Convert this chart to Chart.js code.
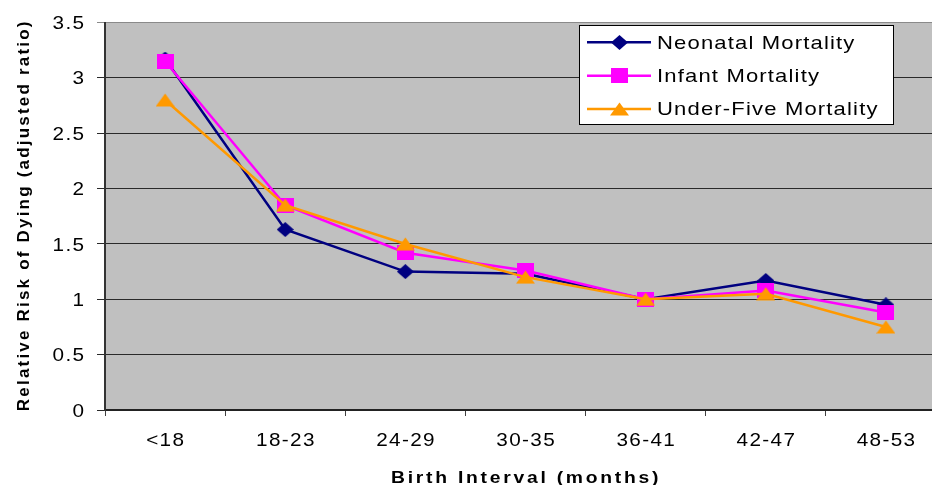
<!DOCTYPE html>
<html>
<head>
<meta charset="utf-8">
<script src="https://cdn.jsdelivr.net/npm/chart.js@4.4.1/dist/chart.umd.min.js"></script>
<style>
  html, body { margin: 0; padding: 0; background: #fff; overflow: hidden; }
  #wrap { position: relative; width: 960px; height: 485px; }
</style>
</head>
<body>
<div id="wrap"><canvas id="c" width="960" height="485"></canvas></div>
<script>
// Birth interval groups and adjusted relative risks
const categories = ['<18', '18-23', '24-29', '30-35', '36-41', '42-47', '48-53'];
const neonatal  = [3.17, 1.63, 1.25, 1.23, 1.00, 1.17, 0.95];
const infant    = [3.15, 1.85, 1.42, 1.26, 1.00, 1.08, 0.88];
const underFive = [2.80, 1.85, 1.50, 1.20, 1.00, 1.05, 0.75];
const seriesNames = ['Neonatal Mortality', 'Infant Mortality', 'Under-Five Mortality'];
const yTicks = [0, 0.5, 1, 1.5, 2, 2.5, 3, 3.5];
const yTickLabels = ['0', '0.5', '1', '1.5', '2', '2.5', '3', '3.5'];
const xTitle = 'Birth Interval (months)';
const yTitle = 'Relative Risk of Dying (adjusted ratio)';

const FONT = '"Liberation Sans", Arial, sans-serif';
const colors = ['#000080', '#ff00ff', '#ff9900'];

// Marker images: diamond, square, triangle
function marker(kind, color) {
  const c = document.createElement('canvas');
  const g = c.getContext('2d');
  let w, h;
  if (kind === 'diamond') { w = 17; h = 15; }
  else if (kind === 'square') { w = 17; h = 15; }
  else { w = 19; h = 14; }
  c.width = w; c.height = h;
  g.fillStyle = color;
  g.beginPath();
  if (kind === 'diamond') {
    g.moveTo(w / 2, 0); g.lineTo(w, h / 2); g.lineTo(w / 2, h); g.lineTo(0, h / 2);
  } else if (kind === 'square') {
    g.rect(0, 0, w, h);
  } else {
    g.moveTo(w / 2, 0.5); g.lineTo(w, h - 0.5); g.lineTo(0, h - 0.5);
  }
  g.closePath();
  g.fill();
  return c;
}
const markers = [marker('diamond', colors[0]), marker('square', colors[1]), marker('triangle', colors[2])];

// Wide, slightly spaced text
function wideText(ctx, text, x, y, font, ls, sx, align) {
  ctx.save();
  ctx.font = font;
  ctx.letterSpacing = ls + 'px';
  ctx.textAlign = 'left';
  ctx.textBaseline = 'alphabetic';
  const w = (ctx.measureText(text).width - ls) * sx;
  const left = align === 'center' ? x - w / 2 : align === 'right' ? x - w : x;
  ctx.translate(left, y);
  ctx.scale(sx, 1);
  ctx.fillStyle = '#000';
  ctx.fillText(text, 0, 0);
  ctx.restore();
}

// Grey plot area
const plotBackground = {
  id: 'plotBackground',
  beforeDraw(chart) {
    const { ctx, chartArea: a } = chart;
    ctx.save();
    ctx.fillStyle = '#c0c0c0';
    ctx.fillRect(a.left, a.top, a.right - a.left, a.bottom - a.top);
    ctx.restore();
  }
};

// Tick labels, axis titles and the boxed legend
const annotations = {
  id: 'annotations',
  afterDraw(chart) {
    const ctx = chart.ctx;
    const a = chart.chartArea;
    const xs = chart.scales.x, ys = chart.scales.y;
    const tickFont = '18.5px ' + FONT;

    ys.ticks.forEach(t => {
      const label = yTickLabels[yTicks.indexOf(t.value)];
      wideText(ctx, label, 84, ys.getPixelForValue(t.value) + 6.6, tickFont, 1.2, 1.12, 'right');
    });
    categories.forEach((c, i) => {
      wideText(ctx, c, xs.getPixelForValue(i), 446.3, tickFont, 1.2, 1.12, 'center');
    });

    // x-axis title
    wideText(ctx, xTitle, 391, 483, 'bold 16.5px ' + FONT, 2.35, 1.17, 'left');

    // y-axis title
    ctx.save();
    ctx.fillStyle = '#000';
    ctx.font = 'bold 17px ' + FONT;
    ctx.letterSpacing = '2.2px';
    ctx.translate(29, (a.top + a.bottom) / 2);
    ctx.rotate(-Math.PI / 2);
    ctx.textAlign = 'center';
    ctx.fillText(yTitle, 1, 0);
    ctx.restore();

    // legend
    ctx.save();
    const bx = 579.5, by = 25.5, bw = 314, bh = 99;
    ctx.fillStyle = '#fff';
    ctx.fillRect(bx, by, bw, bh);
    ctx.strokeStyle = '#000';
    ctx.lineWidth = 1;
    ctx.strokeRect(bx, by, bw, bh);
    chart.data.datasets.forEach((ds, i) => {
      const cy = 42.3 + i * 33.4;
      ctx.strokeStyle = ds.borderColor;
      ctx.lineWidth = 2.5;
      ctx.beginPath();
      ctx.moveTo(587, cy);
      ctx.lineTo(651, cy);
      ctx.stroke();
      const m = ds.pointStyle;
      ctx.drawImage(m, Math.round(619 - m.width / 2), Math.round(cy - m.height / 2));
      wideText(ctx, ds.label, 657, cy + 6.2, '19px ' + FONT, 1.0, 1.16, 'left');
    });
    ctx.restore();
  }
};

const ctx = document.getElementById('c').getContext('2d');
new Chart(ctx, {
  type: 'line',
  data: {
    labels: categories,
    datasets: [
      { label: seriesNames[0], data: neonatal, borderColor: colors[0], backgroundColor: colors[0],
        pointStyle: markers[0], borderWidth: 2.5, order: 2, tension: 0 },
      { label: seriesNames[1], data: infant, borderColor: colors[1], backgroundColor: colors[1],
        pointStyle: markers[1], borderWidth: 2.5, order: 1, tension: 0 },
      { label: seriesNames[2], data: underFive, borderColor: colors[2], backgroundColor: colors[2],
        pointStyle: markers[2], borderWidth: 2.5, order: 0, tension: 0 }
    ]
  },
  options: {
    responsive: false,
    animation: false,
    devicePixelRatio: 1,
    layout: { padding: { top: 22.5, left: 0, right: 14, bottom: 0 } },
    plugins: { legend: { display: false }, tooltip: { enabled: false } },
    scales: {
      x: {
        offset: true,
        grid: { offset: true, drawOnChartArea: false, drawTicks: true, tickLength: 6, color: '#404040' },
        border: { color: '#222', width: 2 },
        ticks: { color: 'rgba(0,0,0,0)', maxRotation: 0, autoSkip: false },
        afterFit(s) { s.height = 75; }
      },
      y: {
        min: 0, max: 3.5,
        afterBuildTicks(s) { s.ticks = yTicks.map(v => ({ value: v })); },
        grid: {
          tickLength: 8,
          color: c => (c.tick && c.tick.value === 3.5) ? '#8a8a8a' : '#2a2a2a'
        },
        border: { color: '#333', width: 2 },
        ticks: { color: 'rgba(0,0,0,0)' },
        afterFit(s) { s.width = 105; }
      }
    }
  },
  plugins: [plotBackground, annotations]
});
</script>
</body>
</html>
